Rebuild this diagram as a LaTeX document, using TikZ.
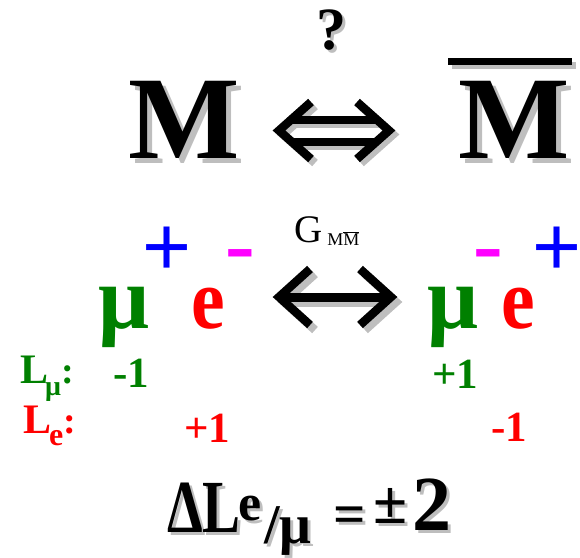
\documentclass[tikz,border=0pt]{standalone}
\usepackage{fontspec}
\setmainfont{Liberation Serif}
\newfontfamily\sansf{Liberation Sans}
\usetikzlibrary{positioning}
\definecolor{mugreen}{RGB}{0,128,0}
\definecolor{emag}{RGB}{255,0,255}
\definecolor{eblue}{RGB}{0,0,255}
\definecolor{ered}{RGB}{255,0,0}
\definecolor{shgray}{RGB}{190,190,190}
\newcommand\fsz[1]{\fontsize{#1}{#1}\selectfont}

\begin{document}
\begin{tikzpicture}[x=1pt, y=-1pt,
    txt/.style={inner sep=0pt, anchor=base west},
    sh/.style={text=shgray, xshift=#1, yshift=-#1},
    sh/.default=4pt,
    bigm/.style={txt, font=\fsz{118}\bfseries},
    part/.style={txt, font=\fsz{90}\bfseries},
    lnum/.style={txt, font=\fsz{43}\bfseries},
    res/.style={txt, font=\fsz{75}\bfseries},
    arm/.style={line width=8.5pt, line join=miter}
  ]
  \useasboundingbox (0,0) rectangle (580,557);

  % top line: M <=> Mbar
  \node[txt, anchor=base, font=\fsz{60}\bfseries, sh=3pt] (qsh) at (331,49) {?};
  \node[txt, anchor=base, font=\fsz{60}\bfseries] (q) at (331,49) {?};
  \node[bigm, sh=5pt] (mlsh) at (128,158) {M};
  \node[bigm] (ml) at (128,158) {M};
  \node[bigm, sh=5pt] (mrsh) at (458,158) {M};
  \node[bigm] (mr) at (458,158) {M};
  \foreach \d/\c in {4/shgray, 0/black} {
    \begin{scope}[shift={(\d,\d)}]
      \draw[line width=7pt, \c] (448,61.5) -- (572,61.5);
      \draw[arm, \c] (311,102) -- (279,130.5) -- (311,159);
      \draw[arm, \c] (357,102) -- (389,130.5) -- (357,159);
      \draw[line width=8pt, \c] (290,119.5) -- (378,119.5);
      \draw[line width=8pt, \c] (290,141.5) -- (378,141.5);
    \end{scope}
  }

  % decay line
  \node[txt, font=\fsz{39}] (gmm) at (294,242.5)
    {G\kern5pt{\fsz{18}\raisebox{-2.5pt}{M$\overline{\hbox{M}}$}}};
  \node[part, text=mugreen] (mul) at (98,328) {μ};
  \node[txt, font=\sansf\fsz{84}, text=eblue] (pll) at (142,275) {+};
  \node[txt, font=\sansf\fsz{95}, text=emag] (mil) at (224,278) {-};
  \node[part, font=\fsz{86}\bfseries, text=ered, xscale=0.88, transform shape] (el) at (191,328) {e};
  \node[part, text=mugreen] (mur) at (427,328) {μ};
  \node[txt, font=\sansf\fsz{95}, text=emag] (mir) at (472,278) {-};
  \node[part, font=\fsz{86}\bfseries, text=ered, xscale=0.88, transform shape] (er) at (501,328) {e};
  \node[txt, font=\sansf\fsz{84}, text=eblue] (plr) at (532,275) {+};
  \foreach \d/\c in {5/shgray, 0/black} {
    \begin{scope}[shift={(\d,\d)}]
      \draw[arm, \c] (310,269) -- (279,297) -- (310,325);
      \draw[arm, \c] (360,269) -- (391,297) -- (360,325);
      \draw[line width=9pt, \c] (282,297) -- (388,297);
    \end{scope}
  }

  % lepton numbers
  \node[txt, font=\fsz{42}\bfseries, text=mugreen] (lmu) at (20,383)
    {L\kern-3pt{\fsz{28}\raisebox{-12pt}{μ}}{\fsz{38}:}};
  \node[txt, font=\fsz{42}\bfseries, text=ered] (le) at (23,433)
    {L\kern-2pt{\fsz{32}\raisebox{-12pt}{e}}{\fsz{38}:}};
  \node[lnum, text=mugreen] (lmul) at (113,387) {-1};
  \node[lnum, text=ered] (lel) at (184,442) {+1};
  \node[lnum, text=mugreen] (lmur) at (432,388) {+1};
  \node[lnum, text=ered] (ler) at (491,441) {-1};

  % result
  \foreach \s/\c in {3pt/shgray, 0pt/black} {
    \node[res, text=\c, xshift=\s, yshift=-\s, xscale=0.76, transform shape] (dl) at (167,532) {ΔL};
    \node[txt, font=\fsz{52}\bfseries, text=\c, xshift=\s, yshift=-\s] (dle) at (238,520) {e};
    \node[txt, font=\fsz{56}\bfseries, text=\c, xshift=\s, yshift=-\s] (dlmu) at (264,543) {/μ};
    \node[txt, font=\fsz{57}\bfseries, text=\c, xshift=\s, yshift=-\s] (eq) at (333,533) {=};
    \node[txt, font=\fsz{62}\bfseries, text=\c, xshift=\s, yshift=-\s] (pm) at (373,523) {±};
    \node[txt, font=\fsz{78}\bfseries, text=\c, xshift=\s, yshift=-\s] (two) at (412,530) {2};
  }
\end{tikzpicture}
\end{document}
